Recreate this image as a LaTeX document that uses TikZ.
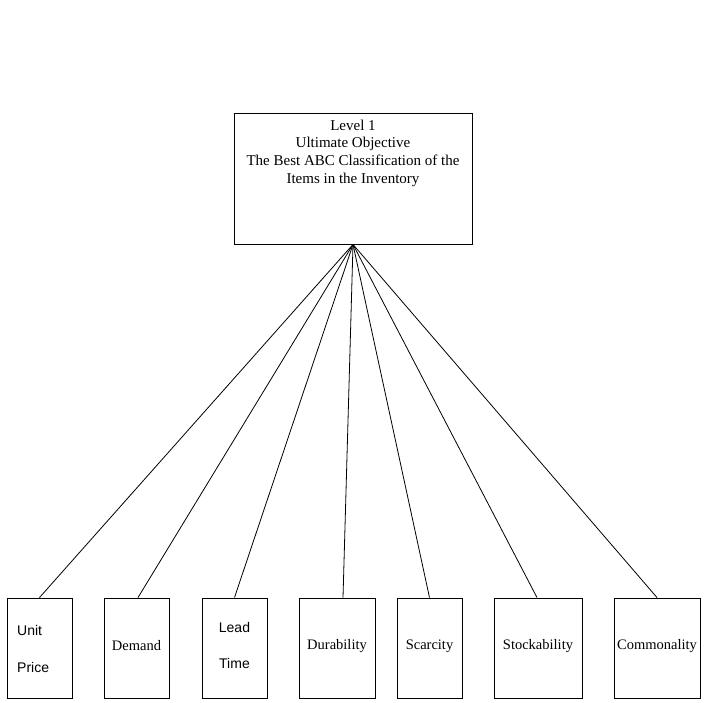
\documentclass[tikz,border=0pt]{standalone}
\usepackage{fontspec}
\setmainfont{Liberation Serif}
\setsansfont{Liberation Sans}
\begin{document}
\begin{tikzpicture}[x=1pt,y=-1pt,
  box/.style={draw, line width=0.9pt, minimum height=100pt, inner sep=0pt},
  lbl/.style={font=\fontsize{14.5}{17}\selectfont, inner sep=0pt},
  slbl/.style={font=\sffamily\fontsize{14}{17}\selectfont, inner sep=0pt},
  conn/.style={line width=0.8pt}]
\useasboundingbox (0,0) rectangle (704,703);
\node[draw, line width=0.9pt, minimum width=238pt, minimum height=131pt, inner sep=0pt] (goal) at (353,178.5) {};
\node[align=center, anchor=north, inner sep=0pt, font=\fontsize{15}{17.8}\selectfont] (goaltext) at (353,119.5)
  {Level 1\\Ultimate Objective\\The Best ABC Classification of the\\Items in the Inventory};
\coordinate (apex) at (goal.south);
\node[box, minimum width=65pt] (up) at (39.5,648) {};
\node[slbl, anchor=west] (upa) at (17,630) {Unit};
\node[slbl, anchor=west] (upb) at (17,667) {Price};
\node[box, minimum width=65pt] (dem) at (136.5,648) {};
\node[lbl] (demt) at (136.5,646) {Demand};
\node[box, minimum width=65pt] (lead) at (234.5,648) {};
\node[slbl] (leada) at (234.5,627) {Lead};
\node[slbl] (leadb) at (234.5,663) {Time};
\node[box, minimum width=76pt] (dur) at (337,648) {};
\node[lbl] (durt) at (337,646) {Durability};
\node[box, minimum width=65pt] (sca) at (429.5,648) {};
\node[lbl] (scat) at (429.5,646) {Scarcity};
\node[box, minimum width=88pt] (sto) at (538,648) {};
\node[lbl] (stot) at (538,646) {Stockability};
\node[box, minimum width=86pt] (com) at (657,648) {};
\node[lbl] (comt) at (657,646) {Commonality};
\draw[conn] (apex) -- (up.north);
\draw[conn] (apex) -- ([xshift=1.5pt]dem.north);
\draw[conn] (apex) -- (lead.north);
\draw[conn] (apex) -- ([xshift=6pt]dur.north);
\draw[conn] (apex) -- (sca.north);
\draw[conn] (apex) -- ([xshift=-1pt]sto.north);
\draw[conn] (apex) -- (com.north);
\end{tikzpicture}
\end{document}
